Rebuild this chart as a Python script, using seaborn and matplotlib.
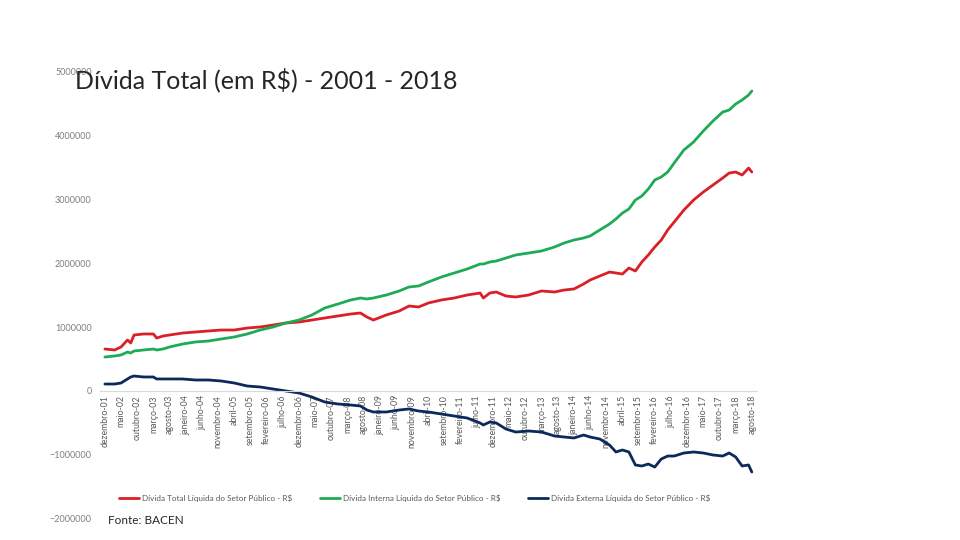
import pandas as pd
import numpy as np
import matplotlib
matplotlib.use("Agg")
import matplotlib.pyplot as plt
import seaborn as sns
from matplotlib.ticker import StrMethodFormatter

# month index since dezembro-01 at which values were read
months = [0, 3, 5, 7, 8, 9, 12, 15, 16, 18, 20, 24, 28, 32, 36, 40, 44, 48, 52, 56,
          60, 64, 68, 72, 76, 79, 81, 83, 87, 91, 94, 97, 100, 104, 108, 112, 116, 117, 119, 121,
          124, 127, 131, 135, 139, 142, 145, 148, 150, 153, 156, 158, 160, 162, 164, 166, 168, 170, 172, 174,
          176, 179, 182, 185, 188, 191, 193, 195, 197, 199, 200]

# values in R$ thousands (scaled below)
divida_total = [656, 641, 688, 797, 750, 875, 891, 891, 828, 859, 875, 906, 922, 938, 953, 953, 984, 1000, 1031, 1063,
                1078, 1109, 1141, 1172, 1203, 1219, 1156, 1109, 1188, 1250, 1328, 1313, 1375, 1422, 1453, 1500, 1531, 1453, 1531, 1547,
                1484, 1469, 1500, 1563, 1547, 1578, 1594, 1672, 1734, 1797, 1859, 1844, 1828, 1922, 1875, 2016, 2125, 2250, 2359, 2516,
                2641, 2828, 2984, 3109, 3219, 3328, 3406, 3422, 3375, 3484, 3422]
divida_interna = [531, 547, 563, 609, 594, 625, 641, 656, 641, 656, 688, 734, 766, 781, 813, 844, 891, 953, 1000, 1063,
                  1109, 1188, 1297, 1359, 1422, 1453, 1438, 1453, 1500, 1563, 1625, 1641, 1703, 1781, 1844, 1906, 1984, 1984, 2016, 2031,
                  2078, 2125, 2156, 2188, 2250, 2313, 2359, 2391, 2422, 2516, 2609, 2688, 2781, 2844, 2984, 3047, 3156, 3297, 3344, 3422,
                  3563, 3766, 3891, 4063, 4219, 4359, 4391, 4484, 4547, 4625, 4688]
divida_externa = [109, 109, 125, 188, 219, 234, 219, 219, 188, 188, 188, 188, 172, 172, 156, 125, 78, 63, 31, 0,
                  -31, -94, -172, -203, -219, -234, -297, -328, -328, -297, -281, -313, -328, -359, -391, -422, -500, -531, -484, -500,
                  -594, -641, -625, -641, -703, -719, -734, -688, -719, -750, -844, -953, -922, -953, -1156, -1172, -1141, -1188, -1063, -1016,
                  -1016, -969, -953, -969, -1000, -1016, -969, -1031, -1172, -1156, -1266]

series_names = ["Dívida Total Líquida do Setor Público - R$",
                "Dívida Interna Líquida do Setor Público - R$",
                "Dívida Externa Líquida do Setor Público - R$"]

tick_labels = ["dezembro-01", "maio-02", "outubro-02", "março-03", "agosto-03", "janeiro-04", "junho-04",
               "novembro-04", "abril-05", "setembro-05", "fevereiro-06", "julho-06", "dezembro-06", "maio-07",
               "outubro-07", "março-08", "agosto-08", "janeiro-09", "junho-09", "novembro-09", "abril-10",
               "setembro-10", "fevereiro-11", "julho-11", "dezembro-11", "maio-12", "outubro-12", "março-13",
               "agosto-13", "janeiro-14", "junho-14", "novembro-14", "abril-15", "setembro-15", "fevereiro-16",
               "julho-16", "dezembro-16", "maio-17", "outubro-17", "março-18", "agosto-18"]

frames = []
for name, vals in zip(series_names, [divida_total, divida_interna, divida_externa]):
    frames.append(pd.DataFrame({"mes": months, "valor": np.array(vals) * 1000, "serie": name}))
df = pd.concat(frames, ignore_index=True)

sns.set_style("white")
plt.rcParams['font.family'] = ['Lato', 'DejaVu Sans']

fig = plt.figure(figsize=(9.6, 5.4), dpi=100)
ax = fig.add_axes([0.1042, 0.0389, 0.684, 0.8296])

palette = ["#DA1F26", "#1EAB55", "#0B2A5B"]
sns.lineplot(data=df, x="mes", y="valor", hue="serie", palette=palette, linewidth=2.0, ax=ax, legend=False)

# spine position first: it resets the ticks
for s in ["top", "right", "left"]:
    ax.spines[s].set_visible(False)
ax.spines["bottom"].set_position(("data", 0))
ax.spines["bottom"].set_color("#d9d9d9")
ax.spines["bottom"].set_linewidth(0.8)

ax.set_xlim(-1.5, 201.5)
ax.set_ylim(-2000000, 5000000)
ax.set_yticks(range(-2000000, 5000001, 1000000))
ax.yaxis.set_major_formatter(StrMethodFormatter('{x:.0f}'))
ax.set_xticks(range(0, 201, 5))
ax.set_xticklabels(tick_labels, rotation=90, fontsize=6.3, color="#595959")
ax.tick_params(axis='y', labelsize=6.5, labelcolor="#7f7f7f", length=0, pad=6)
ax.tick_params(axis='x', length=0, pad=3)
ax.set_xlabel("")
ax.set_ylabel("")

handles = [plt.Line2D([], [], color=c, linewidth=2.0) for c in palette]
leg = fig.legend(handles, series_names, loc="center left", ncol=3, bbox_to_anchor=(112 / 960, 1 - 498 / 540),
                 frameon=False, fontsize=5.9, handlelength=2.45, handletextpad=0.37, columnspacing=3.3)
for t in leg.get_texts():
    t.set_color("#595959")

fig.text(75 / 960, 1 - 80 / 540, "Dívida Total (em R$) - 2001 - 2018", fontsize=18, va="center", ha="left")
fig.text(108 / 960, 1 - 521 / 540, "Fonte: BACEN", fontsize=8.5, va="center", ha="left")

fig.savefig("out.png", dpi=100)
